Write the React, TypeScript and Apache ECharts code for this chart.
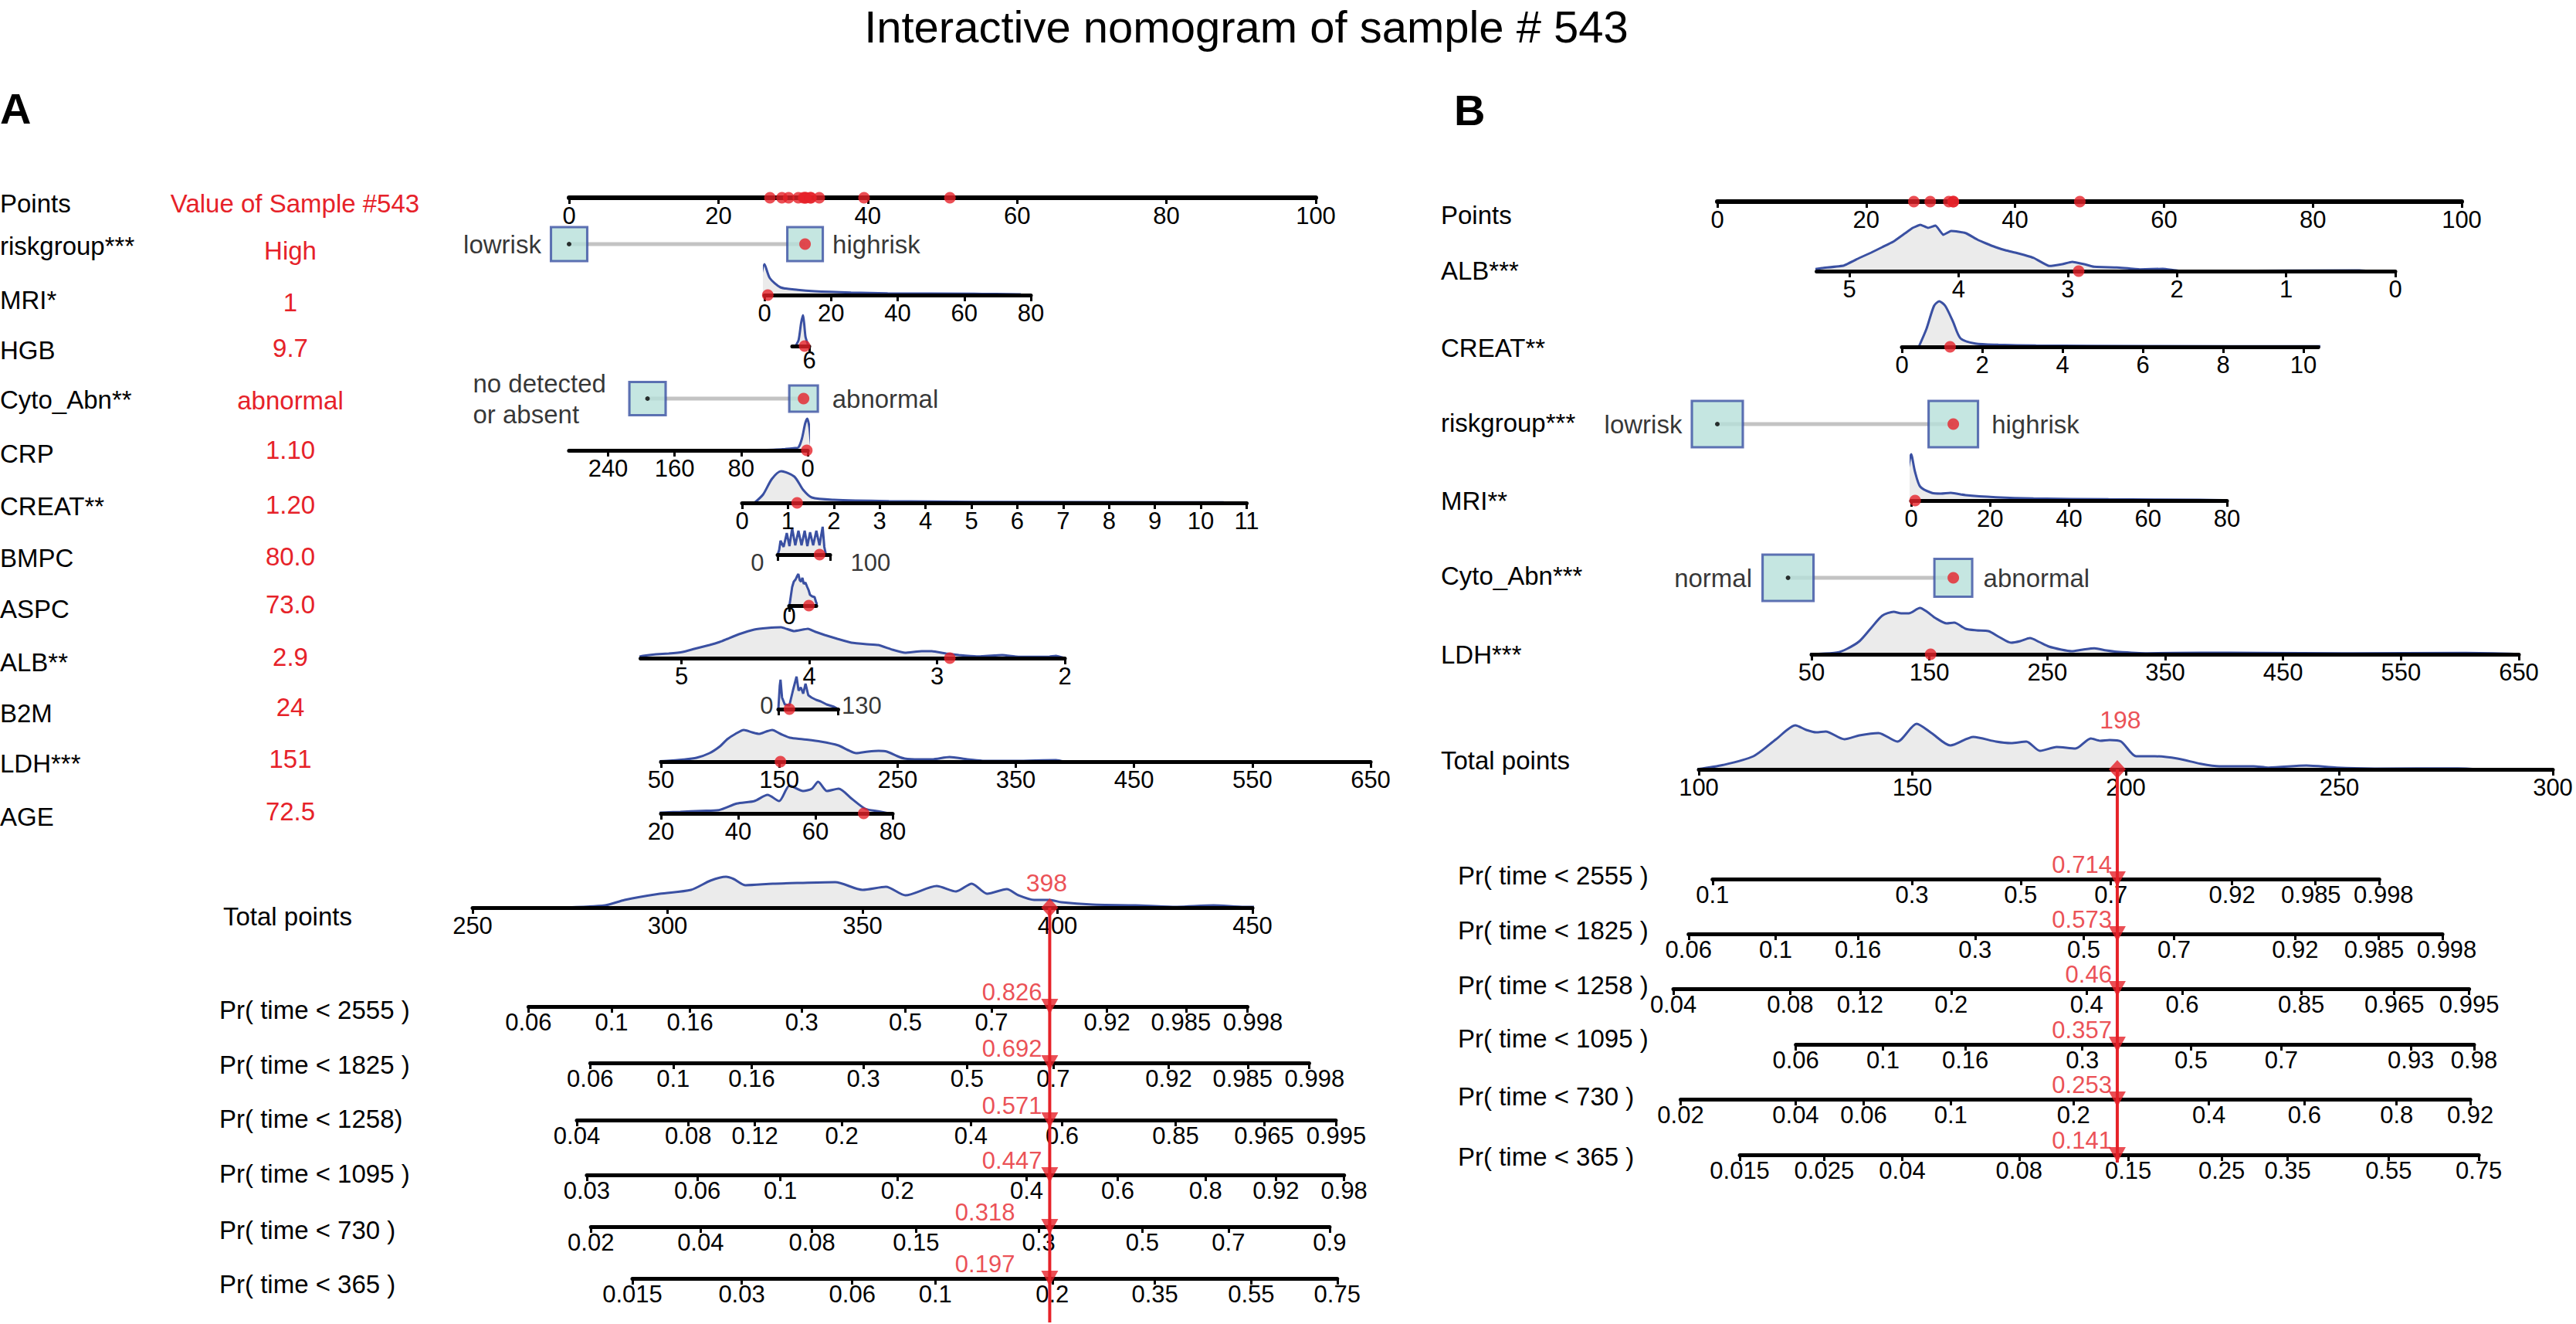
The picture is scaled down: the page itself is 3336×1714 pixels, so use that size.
import React, { useEffect, useRef } from "react";
import * as echarts from "echarts";

const W = 3336;
const H = 1714;
const FONT = "'Liberation Sans', Arial, Helvetica, sans-serif";
const BLUE = "#3a50a2";
const RED = "#e62229";
const FILL = "#ebebeb";
const TEAL = "#b6e0da";
const GRAY = "#c3c3c3";
const TICK_FS = 31;

// ---------------- DATA ----------------
const titleText = "Interactive nomogram of sample # 543";
const pointsTicks = [0, 20, 40, 60, 80, 100];

// Panel A
const aRowNames = ["riskgroup***", "MRI*", "HGB", "Cyto_Abn**", "CRP", "CREAT**", "BMPC", "ASPC", "ALB**", "B2M", "LDH***", "AGE"];
const aSampleText = ["High", "1", "9.7", "abnormal", "1.10", "1.20", "80.0", "73.0", "2.9", "24", "151", "72.5"];
const aPointsDots = [26.9, 28.5, 29.4, 30.7, 31.4, 31.6, 31.7, 32.3, 32.4, 33.5, 39.5, 51.0];

const aRiskLevels = ["lowrisk", "highrisk"];
const aRiskPoints = [0, 31.6];
const aCytoLevels = ["no detected\nor absent", "abnormal"];
const aCytoPoints = [10.5, 31.4];

const aMriTicks = [0, 20, 40, 60, 80];
const aMriDens = [[-1.9, 0], [0, 40], [1.6, 22], [4.8, 10], [10, 6.7], [15, 5], [26, 3.3], [37, 2.3], [63, 1.7], [77, 1]];
const aHgbTicks = [6];
const aHgbDens = [[17, 0], [14.5, 8], [12.5, 30], [11, 40], [10, 28], [9, 12], [7.5, 4], [6.5, 0]];
const aCrpTicks = [0, 80, 160, 240];
const aCrpDens = [[60, 0], [30, 1.5], [15, 3], [11, 4], [7, 15], [3, 35], [0.5, 41], [-2, 30], [-4, 8], [-6, 0]];
const aCreatTicks = [0, 1, 2, 3, 4, 5, 6, 7, 8, 9, 10, 11];
const aCreatDens = [[0.27, 0], [0.46, 11], [0.65, 31], [0.85, 41], [1.14, 34], [1.33, 17], [1.52, 7], [2, 4], [3.2, 2.3], [5.1, 1.3], [10.5, 0.7]];
const aBmpcTicks = [0, 100];
const aBmpcDens = [[0, 0], [3, 6], [5.6, 18], [11.5, 10], [17.5, 28], [22.6, 11], [27.8, 34], [33.7, 12], [39.7, 31], [45.6, 12], [51.6, 31], [56.7, 11], [61.9, 29], [67.8, 12], [73.8, 31], [79.8, 12], [85.8, 36], [89, 10], [92, 0]];
const aAspcTicks = [0];
const aAspcDens = [[1, 0], [11, 24], [17, 31], [24, 34], [29, 38], [34, 41], [39, 33], [44, 31], [49, 36], [54, 28], [60, 30], [67, 24], [72, 20], [77, 14], [85, 12], [94, 11], [100, 4], [106, 0]];
const aAlbTicks = [2, 3, 4, 5];
const aAlbDens = [[5.39, 0], [5.3, 3], [5.2, 5], [5.1, 6], [4.99, 8], [4.9, 12], [4.78, 17], [4.7, 21], [4.64, 25], [4.55, 31], [4.43, 37], [4.33, 39], [4.22, 40], [4.12, 35], [4.01, 38], [3.95, 34], [3.88, 30], [3.78, 25], [3.67, 20], [3.55, 18], [3.46, 17], [3.35, 11], [3.25, 7], [3.12, 9], [3.04, 9], [2.93, 6], [2.83, 4], [2.69, 2.3], [2.55, 3.5], [2.49, 4], [2.38, 2], [2.28, 1.7], [2.12, 2], [2.07, 3], [2, 0]];
const aB2mTicks = [0, 130];
const aB2mDens = [[0, 0], [3, 30], [4.7, 38], [8, 15], [14, 6], [24, 5], [32, 25], [39.5, 42], [44, 24], [49, 28], [54, 20], [59, 33], [65, 18], [72, 15], [82, 12], [92, 10], [105, 6], [121, 3], [130, 0]];
const aLdhTicks = [50, 150, 250, 350, 450, 550, 650];
const aLdhDens = [[37, 0], [55, 1], [69, 2.7], [80, 5], [91, 11], [100, 20], [106, 29], [113, 36], [120, 41], [127, 38], [133, 36], [139, 39], [144, 41], [151, 36], [159, 31], [170, 29], [185, 26], [200, 21], [208, 15], [215, 11], [225, 13], [234, 14], [241, 13], [250, 7], [256, 4], [268, 3], [279, 3], [294, 6], [309, 3], [324, 1], [350, 1], [384, 2], [391, 0]];
const aAgeTicks = [20, 40, 60, 80];
const aAgeDens = [[18, 0], [20, 1], [25, 2], [30.4, 3.3], [35, 4.3], [39.6, 12.7], [44.2, 16], [47.6, 24], [50.6, 16], [53.3, 36], [56.8, 29], [59.1, 32], [60.7, 41], [63, 29], [66, 32], [69.4, 19], [72.9, 6], [76.3, 2.7], [79, 0]];
const aTotalTicks = [250, 300, 350, 400, 450];
const aTotal = 398;
const aTotalDens = [[272, 0], [284, 3], [289, 10], [298, 18], [306, 23], [311, 35], [315, 40], [317, 37], [320, 29], [327, 31], [334, 32], [343, 33], [350, 23], [356, 27], [361, 16], [369, 28], [374, 21], [378, 31], [382, 18], [387, 24], [390, 16], [394, 10], [398, 10], [401, 7], [409, 4], [420, 3], [430, 1], [440, 3], [448, 1], [462, 1], [472, 0.5]];

const aPrNames = ["Pr( time < 2555 )", "Pr( time < 1825 )", "Pr( time < 1258)", "Pr( time < 1095 )", "Pr( time < 730 )", "Pr( time < 365 )"];
const aPrSample = [0.826, 0.692, 0.571, 0.447, 0.318, 0.197];
const aPr2555 = [0.06, 0.1, 0.16, 0.3, 0.5, 0.7, 0.92, 0.985, 0.998];
const aPr1825 = [0.06, 0.1, 0.16, 0.3, 0.5, 0.7, 0.92, 0.985, 0.998];
const aPr1258 = [0.04, 0.08, 0.12, 0.2, 0.4, 0.6, 0.85, 0.965, 0.995];
const aPr1095 = [0.03, 0.06, 0.1, 0.2, 0.4, 0.6, 0.8, 0.92, 0.98];
const aPr730 = [0.02, 0.04, 0.08, 0.15, 0.3, 0.5, 0.7, 0.9];
const aPr365 = [0.015, 0.03, 0.06, 0.1, 0.2, 0.35, 0.55, 0.75];

// Panel B
const bRowNames = ["ALB***", "CREAT**", "riskgroup***", "MRI**", "Cyto_Abn***", "LDH***"];
const bPointsDots = [26.4, 28.6, 31.1, 31.7, 31.7, 48.7];
const bAlbTicks = [0, 1, 2, 3, 4, 5];
const bAlbSample = 2.9;
const bAlbDens = [[5.44, 0], [5.25, 4], [5.05, 7.3], [4.91, 17], [4.8, 24], [4.7, 31], [4.6, 38], [4.49, 49], [4.42, 56], [4.35, 60], [4.28, 56], [4.21, 59], [4.14, 47], [4.07, 52], [4, 51], [3.93, 49], [3.83, 41], [3.75, 36], [3.66, 31], [3.57, 27], [3.48, 24], [3.4, 21], [3.31, 17], [3.17, 6.7], [3.05, 9], [2.96, 12], [2.85, 9], [2.76, 5.7], [2.55, 4.7], [2.34, 2.3], [2.13, 3], [1.99, 0.7], [1.6, 0.3], [0.33, 1], [0.19, 0]];
const bCreatTicks = [0, 2, 4, 6, 8, 10];
const bCreatSample = 1.2;
const bCreatDens = [[0.42, 0], [0.61, 23], [0.8, 53], [0.93, 59], [1.08, 53], [1.27, 33], [1.46, 11], [1.83, 4.3], [2.4, 2.7], [3.34, 1.7], [6.1, 1], [10.64, 0.7]];
const bRiskLevels = ["lowrisk", "highrisk"];
const bRiskPoints = [0, 31.7];
const bMriTicks = [0, 20, 40, 60, 80];
const bMriSample = 1;
const bMriDens = [[-1.9, 0], [-1, 32], [0, 60], [0.94, 38], [2.3, 18], [5.2, 10], [7.5, 9], [10, 10], [13.8, 7], [21.5, 4.3], [31, 2.7], [50, 1.7], [73, 1], [79, 0.5]];
const bCytoLevels = ["normal", "abnormal"];
const bCytoPoints = [9.5, 31.7];
const bLdhTicks = [50, 150, 250, 350, 450, 550, 650];
const bLdhSample = 151;
const bLdhDens = [[36, 0], [55, 0.5], [71.5, 2.3], [80, 7], [90.7, 17], [100, 33], [110, 50], [119.7, 55], [126, 53], [132.5, 53], [142, 60], [148, 55], [155, 47], [164.6, 40], [171, 41], [180.7, 33], [190, 31], [200, 30], [209.6, 22], [219.2, 15], [227, 17], [235.3, 21], [243, 16], [251.4, 10], [262, 6], [270.6, 4], [280, 6], [289.9, 7.7], [300, 5], [309, 3.3], [335, 1.3], [380, 2], [431, 1.7], [500, 1.2], [605, 1.7], [650, 0.3]];
const bTotalTicks = [100, 150, 200, 250, 300];
const bTotal = 198;
const bTotalDens = [[99.5, 0], [105.7, 5.7], [112.8, 17], [118.1, 39], [122.6, 57], [125.2, 51], [127.5, 48], [129.7, 49], [134.1, 39], [137.6, 44], [142.1, 47], [146.5, 36], [151, 59], [154.5, 47], [158.9, 31], [164.3, 42], [169.6, 36], [173.1, 34], [176.7, 36], [179.9, 24], [183.8, 29], [188.2, 27], [191.8, 40], [194, 37], [196.2, 38], [198.9, 36], [202.4, 17], [206.8, 17], [212.1, 14], [217.5, 7.3], [221.9, 4], [229.9, 4], [233.4, 2.3], [242.3, 5], [249.4, 2.3], [258.3, 1], [277.8, 1.3], [283, 0]];

const bPrNames = ["Pr( time < 2555 )", "Pr( time < 1825 )", "Pr( time < 1258 )", "Pr( time < 1095 )", "Pr( time < 730 )", "Pr( time < 365 )"];
const bPrSample = [0.714, 0.573, 0.46, 0.357, 0.253, 0.141];
const bPr2555 = [0.1, 0.3, 0.5, 0.7, 0.92, 0.985, 0.998];
const bPr1825 = [0.06, 0.1, 0.16, 0.3, 0.5, 0.7, 0.92, 0.985, 0.998];
const bPr1258 = [0.04, 0.08, 0.12, 0.2, 0.4, 0.6, 0.85, 0.965, 0.995];
const bPr1095 = [0.06, 0.1, 0.16, 0.3, 0.5, 0.7, 0.93, 0.98];
const bPr730 = [0.02, 0.04, 0.06, 0.1, 0.2, 0.4, 0.6, 0.8, 0.92];
const bPr365 = [0.015, 0.025, 0.04, 0.08, 0.15, 0.25, 0.35, 0.55, 0.75];

// ---------------- BUILDERS ----------------
const GH = 80;
const lin = (v0: number, p0: number, v1: number, p1: number) => {
  const s = (p1 - p0) / (v1 - v0);
  return (v: number) => p0 + (v - v0) * s;
};

function addGrid(o: any, left: number, right: number, top: number, height: number, xa: any, ya: any) {
  const gi = o.grid.length;
  o.grid.push({ left, top, width: right - left, height, containLabel: false, show: false });
  o.xAxis.push({ gridIndex: gi, ...xa });
  o.yAxis.push({ gridIndex: gi, ...ya });
  return gi;
}

function valueAxis(min: number, max: number, ticks: number[], opts: any) {
  const ax: any = {
    type: "value",
    min,
    max,
    inverse: !!opts.inverse,
    z: 3,
    axisLine: { show: true, onZero: false, lineStyle: { color: "#000", width: opts.lw || 5 } },
    axisTick: { show: true, customValues: ticks, length: 8, lineStyle: { color: "#000", width: 3 } },
    axisLabel: {
      show: opts.labels !== false,
      customValues: ticks,
      margin: opts.margin !== undefined ? opts.margin : 8,
      fontSize: TICK_FS,
      color: "#000",
      fontFamily: FONT,
    },
    splitLine: { show: false },
  };
  if (opts.formatter) ax.axisLabel.formatter = opts.formatter;
  if (opts.rich) ax.axisLabel.rich = opts.rich;
  return ax;
}

function contRow(o: any, r: any) {
  const px = lin(r.v0, r.p0, r.v1, r.p1);
  const a = px(r.min);
  const b = px(r.max);
  const gi = addGrid(
    o,
    Math.min(a, b),
    Math.max(a, b),
    r.y - GH,
    GH,
    valueAxis(r.min, r.max, r.ticks, { inverse: a > b, margin: r.margin, labels: r.labels, lw: r.lw }),
    { type: "value", min: 0, max: GH, show: false }
  );
  if (r.dens) {
    o.series.push({
      type: "line", xAxisIndex: gi, yAxisIndex: gi, data: r.dens, showSymbol: false, symbol: "none",
      clip: false, smooth: r.smooth !== undefined ? r.smooth : 0.25, silent: true, z: 1,
      lineStyle: { color: BLUE, width: 3 }, areaStyle: { color: FILL, opacity: 1 },
    });
  }
  if (r.side) {
    o.series.push({
      type: "scatter", xAxisIndex: gi, yAxisIndex: gi, clip: false, symbolSize: 1, silent: true, z: 4,
      itemStyle: { color: "rgba(0,0,0,0)" },
      data: r.side.map((s: any) => ({
        value: [s.v, 0],
        label: { show: true, formatter: s.t, position: s.pos, distance: s.d, offset: [0, s.dy], fontSize: TICK_FS, color: "#000", fontFamily: FONT },
      })),
    });
  }
  if (r.dots) {
    o.series.push({
      type: "scatter", xAxisIndex: gi, yAxisIndex: gi, clip: false, silent: true, z: 10,
      data: r.dots.map((v: number) => [v, 0]), symbolSize: 15, itemStyle: { color: RED },
    });
  }
  if (r.diamond !== undefined) {
    o.series.push({
      type: "scatter", xAxisIndex: gi, yAxisIndex: gi, clip: false, silent: true, z: 10,
      symbol: "diamond", symbolSize: [22, 24], itemStyle: { color: RED },
      data: [{
        value: [r.diamond, 0],
        label: { show: true, formatter: String(r.diamond), position: [11 + r.lab[0], 12 + r.lab[1]], align: "center", verticalAlign: "middle", color: RED, fontSize: 32, fontFamily: FONT },
      }],
    });
  }
  return gi;
}

function catRow(o: any, P: any, y: number, pts: number[], levels: string[], sizes: number[][], gaps: number[], sampleIdx: number) {
  const gi = addGrid(o, P.p0, P.p100, y - 40, 80, { type: "value", min: 0, max: 100, show: false }, { type: "value", min: -1, max: 1, show: false });
  o.series.push({
    type: "line", xAxisIndex: gi, yAxisIndex: gi, data: pts.map((p) => [p, 0]), symbol: "none", silent: true, z: 3,
    lineStyle: { color: GRAY, width: 5 },
  });
  o.series.push({
    type: "scatter", xAxisIndex: gi, yAxisIndex: gi, symbol: "rect", silent: true, z: 4, clip: false,
    itemStyle: { color: TEAL, borderColor: BLUE, borderWidth: 3 },
    data: pts.map((p, i) => {
      const multi = levels[i].indexOf("\n") >= 0;
      const label: any = {
        show: true, position: i === 0 ? "left" : "right", distance: gaps[i], fontSize: 33, color: "#000", fontFamily: FONT,
      };
      if (multi) {
        label.formatter = levels[i].split("\n").map((s) => "{a|" + s + "}").join("\n");
        label.rich = { a: { width: 175, align: "left", fontSize: 33, lineHeight: 40, color: "#000", fontFamily: FONT } };
      } else {
        label.formatter = levels[i];
      }
      return { value: [p, 0], symbolSize: sizes[i], label };
    }),
  });
  o.series.push({
    type: "scatter", xAxisIndex: gi, yAxisIndex: gi, silent: true, z: 5, symbolSize: 6,
    itemStyle: { color: "#000" }, data: [[pts[0], 0]],
  });
  o.series.push({
    type: "scatter", xAxisIndex: gi, yAxisIndex: gi, silent: true, z: 6, symbolSize: 15,
    itemStyle: { color: RED }, data: [[pts[sampleIdx], 0]],
  });
}

// approximate text width for digit labels (Arial-like metrics)
function labelWidth(s: string) {
  let w = 0;
  for (const c of s) w += c === "." ? 0.278 : 0.556;
  return w * TICK_FS;
}

// spread crowded tick labels apart (layout only)
function spreadLabels(centers: number[], widths: number[], gap: number) {
  const c = centers.slice();
  for (let pass = 0; pass < 30; pass++) {
    let moved = false;
    for (let i = 1; i < c.length; i++) {
      const need = (widths[i - 1] + widths[i]) / 2 + gap - (c[i] - c[i - 1]);
      if (need > 0.5) {
        c[i - 1] -= need / 2;
        c[i] += need / 2;
        moved = true;
      }
    }
    if (!moved) break;
  }
  return c.map((v, i) => v - centers[i]);
}

function prRow(o: any, P: any, y: number, probs: number[], sample: number, dx: number, dy: number) {
  const u = (p: number) => Math.log(-Math.log(1 - p));
  const T = (p: number) => P.Ts + P.k * (u(p) - u(sample));
  const ts = probs.map(T);
  const labels = probs.map((p) => String(p));
  const shifts = spreadLabels(ts.map(P.pxT), labels.map(labelWidth), 16);
  const rich: any = {};
  shifts.forEach((s, i) => {
    const pad = Math.round(Math.abs(s) * 2);
    rich["t" + i] = {
      fontSize: TICK_FS, color: "#000", fontFamily: FONT,
      padding: s >= 0 ? [0, 0, 0, pad] : [0, pad, 0, 0],
    };
  });
  const fmt = (v: number) => {
    let best = 0;
    for (let i = 0; i < ts.length; i++) if (Math.abs(ts[i] - v) < Math.abs(ts[best] - v)) best = i;
    return "{t" + best + "|" + labels[best] + "}";
  };
  const gi = addGrid(
    o, P.pxT(ts[0]), P.pxT(ts[ts.length - 1]), y - 40, 40,
    valueAxis(ts[0], ts[ts.length - 1], ts, { formatter: fmt, rich, margin: 5 }),
    { type: "value", min: 0, max: 40, show: false }
  );
  o.series.push({
    type: "scatter", xAxisIndex: gi, yAxisIndex: gi, clip: false, silent: true, z: 10,
    symbol: "triangle", symbolRotate: 180, symbolSize: [22, 20], itemStyle: { color: RED },
    data: [{
      value: [P.Ts, 0],
      label: { show: true, formatter: String(sample), position: [11 + dx, 10 + dy], align: "right", verticalAlign: "middle", color: RED, fontSize: 31, fontFamily: FONT },
    }],
  });
}

function redLine(o: any, P: any, top: number, bottom: number) {
  const gi = addGrid(
    o, P.pxT(P.tMin), P.pxT(P.tMax), top, bottom - top,
    { type: "value", min: P.tMin, max: P.tMax, show: false },
    { type: "value", min: 0, max: 1, show: false }
  );
  o.series.push({
    type: "line", xAxisIndex: gi, yAxisIndex: gi, data: [[P.Ts, 0], [P.Ts, 1]], symbol: "none", silent: true, z: 8,
    lineStyle: { color: RED, width: 4 },
  });
}

function txt(text: string, x: number, y: number, o: any = {}) {
  const align = o.align || "left";
  return {
    type: "text", x, y, silent: true,
    style: {
      text, fill: o.fill || "#000",
      font: (o.bold ? "bold " : "") + (o.size || 33) + "px " + FONT,
      align, verticalAlign: "middle", textAlign: align, textVerticalAlign: "middle",
    },
  };
}

function buildOption() {
  const o: any = { animation: false, backgroundColor: "#fff", textStyle: { fontFamily: FONT }, grid: [], xAxis: [], yAxis: [], series: [], graphic: [] };
  const g = o.graphic;

  // ---------- Panel A ----------
  const A = { p0: 737, p100: 1704, pxT: lin(250, 612, 450, 1622), Ts: aTotal, k: 40, tMin: 250, tMax: 450 };
  contRow(o, { y: 256, v0: 0, p0: A.p0, v1: 100, p1: A.p100, min: 0, max: 100, ticks: pointsTicks, dots: aPointsDots, lw: 6 });
  catRow(o, A, 316, aRiskPoints, aRiskLevels, [[47, 44], [46, 44]], [11, 11], 1);
  contRow(o, { y: 382, v0: 0, p0: 990, v1: 80, p1: 1335, min: 0, max: 80, ticks: aMriTicks, dens: aMriDens, dots: [parseFloat(aSampleText[1])] });
  contRow(o, { y: 448, v0: 6, p0: 1048, v1: 19.6, p1: 1026, min: 6, max: 19.6, ticks: aHgbTicks, dens: aHgbDens, dots: [parseFloat(aSampleText[2])], margin: 3 });
  catRow(o, A, 516, aCytoPoints, aCytoLevels, [[47, 43], [37, 34]], [26, 17], 1);
  contRow(o, { y: 583, v0: 0, p0: 1046, v1: 240, p1: 787.5, min: 0, max: 287, ticks: aCrpTicks, dens: aCrpDens, dots: [parseFloat(aSampleText[4])] });
  contRow(o, { y: 651, v0: 0, p0: 961, v1: 11, p1: 1614.5, min: 0, max: 11, ticks: aCreatTicks, dens: aCreatDens, dots: [parseFloat(aSampleText[5])] });
  contRow(o, {
    y: 718, v0: 0, p0: 1007, v1: 100, p1: 1075, min: 0, max: 100, ticks: aBmpcTicks, dens: aBmpcDens, smooth: 0, labels: false,
    dots: [parseFloat(aSampleText[6])],
    side: [{ v: 0, t: "0", pos: "left", d: 17, dy: 10 }, { v: 100, t: "100", pos: "right", d: 26, dy: 10 }],
  });
  contRow(o, { y: 784, v0: 0, p0: 1022, v1: 100, p1: 1057, min: 0, max: 100, ticks: aAspcTicks, dens: aAspcDens, smooth: 0, margin: -2, dots: [parseFloat(aSampleText[7])] });
  contRow(o, { y: 852, v0: 5, p0: 882.5, v1: 2, p1: 1379, min: 2, max: 5.32, ticks: aAlbTicks, dens: aAlbDens, smooth: 0.1, dots: [parseFloat(aSampleText[8])] });
  contRow(o, {
    y: 918, v0: 0, p0: 1008, v1: 130, p1: 1085.5, min: 0, max: 130, ticks: aB2mTicks, dens: aB2mDens, smooth: 0, labels: false,
    dots: [parseFloat(aSampleText[9])],
    side: [{ v: 0, t: "0", pos: "left", d: 6, dy: -5 }, { v: 130, t: "130", pos: "right", d: 4, dy: -5 }],
  });
  contRow(o, { y: 986, v0: 50, p0: 856, v1: 650, p1: 1775, min: 50, max: 650, ticks: aLdhTicks, dens: aLdhDens, dots: [parseFloat(aSampleText[10])] });
  contRow(o, { y: 1053, v0: 20, p0: 856, v1: 80, p1: 1156, min: 20, max: 80, ticks: aAgeTicks, dens: aAgeDens, dots: [parseFloat(aSampleText[11])] });
  contRow(o, { y: 1175, v0: 250, p0: 612, v1: 450, p1: 1622, min: 250, max: 450, ticks: aTotalTicks, dens: aTotalDens, diamond: aTotal, lab: [-4, -32] });
  redLine(o, A, 1175, 1712);
  const aPrAxes = [aPr2555, aPr1825, aPr1258, aPr1095, aPr730, aPr365];
  const aPrY = [1303, 1376, 1450, 1521, 1588, 1655];
  const aPrDx = [-10, -10, -10, -10, -45, -45];
  aPrAxes.forEach((probs, i) => prRow(o, A, aPrY[i], probs, aPrSample[i], aPrDx[i], -19));

  // texts A
  g.push(txt(titleText, 1614, 34, { size: 58, align: "center" }));
  g.push(txt("A", 0, 140, { size: 56, bold: true }));
  g.push(txt("Points", 0, 263));
  g.push(txt("Value of Sample #543", 382, 263, { fill: RED, align: "center" }));
  const aLabelY = [318, 388, 453, 517, 587, 655, 722, 788, 857, 923, 988, 1057];
  const aValueY = [324, 391, 450, 518, 582, 653, 720, 782, 850, 915, 982, 1050];
  aRowNames.forEach((n, i) => {
    g.push(txt(n, 0, aLabelY[i]));
    g.push(txt(aSampleText[i], 376, aValueY[i], { fill: RED, align: "center" }));
  });
  g.push(txt("Total points", 289, 1186));
  const aPrLabelY = [1307, 1378, 1448, 1519, 1592, 1662];
  aPrNames.forEach((n, i) => g.push(txt(n, 284, aPrLabelY[i])));

  // ---------- Panel B ----------
  const B = { p0: 2224, p100: 3188, pxT: lin(100, 2200, 300, 3306), Ts: bTotal, k: 38.3, tMin: 100, tMax: 300 };
  contRow(o, { y: 261, v0: 0, p0: B.p0, v1: 100, p1: B.p100, min: 0, max: 100, ticks: pointsTicks, dots: bPointsDots, lw: 6 });
  contRow(o, { y: 351, v0: 5, p0: 2395, v1: 0, p1: 3102, min: 0, max: 5.3, ticks: bAlbTicks, dens: bAlbDens, smooth: 0.1, dots: [bAlbSample] });
  contRow(o, { y: 449, v0: 0, p0: 2463, v1: 10, p1: 2983, min: 0, max: 10.37, ticks: bCreatTicks, dens: bCreatDens, dots: [bCreatSample] });
  catRow(o, B, 549, bRiskPoints, bRiskLevels, [[66, 60], [64, 60]], [11, 16], 1);
  contRow(o, { y: 648, v0: 0, p0: 2475, v1: 80, p1: 2884, min: 0, max: 80, ticks: bMriTicks, dens: bMriDens, dots: [bMriSample] });
  catRow(o, B, 748, bCytoPoints, bCytoLevels, [[66, 60], [49, 49]], [12, 13], 1);
  contRow(o, { y: 847, v0: 50, p0: 2346, v1: 650, p1: 3262, min: 50, max: 650, ticks: bLdhTicks, dens: bLdhDens, dots: [bLdhSample] });
  contRow(o, { y: 996, v0: 100, p0: 2200, v1: 300, p1: 3306, min: 100, max: 300, ticks: bTotalTicks, dens: bTotalDens, diamond: bTotal, lab: [4, -64] });
  redLine(o, B, 996, 1505);
  const bPrAxes = [bPr2555, bPr1825, bPr1258, bPr1095, bPr730, bPr365];
  const bPrY = [1138, 1209, 1280, 1352, 1423, 1495];
  bPrAxes.forEach((probs, i) => prRow(o, B, bPrY[i], probs, bPrSample[i], -7, -19));

  g.push(txt("B", 1883, 142, { size: 56, bold: true }));
  g.push(txt("Points", 1866, 278));
  const bLabelY = [350, 450, 547, 648, 745, 847];
  bRowNames.forEach((n, i) => g.push(txt(n, 1866, bLabelY[i])));
  g.push(txt("Total points", 1866, 984));
  const bPrLabelY = [1133, 1204, 1275, 1344, 1419, 1497];
  bPrNames.forEach((n, i) => g.push(txt(n, 1888, bPrLabelY[i])));

  return o;
}

export default function App() {
  const ref = useRef<HTMLDivElement>(null);
  useEffect(() => {
    if (!ref.current) return;
    const chart = echarts.init(ref.current, undefined, { renderer: "svg", width: W, height: H });
    chart.setOption(buildOption());
    return () => chart.dispose();
  }, []);
  return <div ref={ref} style={{ position: "fixed", left: 0, top: 0, width: W, height: H, background: "#fff" }} />;
}
